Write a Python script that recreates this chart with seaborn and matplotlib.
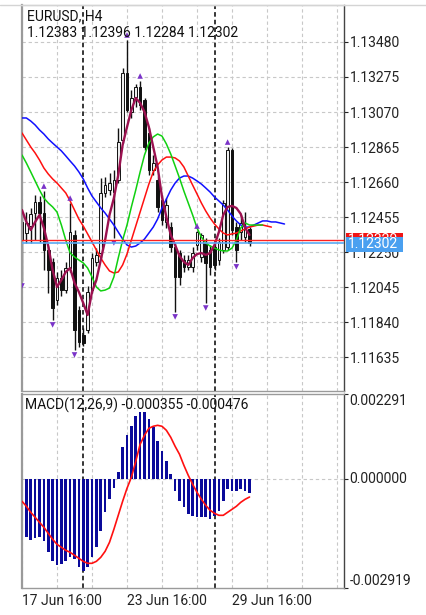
import numpy as np
import pandas as pd
import matplotlib
matplotlib.use('Agg')
import matplotlib.pyplot as plt
import matplotlib.transforms as mtransforms
from matplotlib.patches import Rectangle
from matplotlib.lines import Line2D
import seaborn as sns

symbol = 'EURUSD, H4'
time_labels = ['17 Jun 16:00', '23 Jun 16:00', '29 Jun 16:00']
time_label_bars = [0, 24, 48]
week_start_bars = [14, 44]

# H4 candles
opens = [1.12426, 1.12361, 1.12402, 1.12478, 1.12543, 1.12478, 1.12262, 1.12192, 1.11969, 1.12098,
         1.12027, 1.12156, 1.12350, 1.11910, 1.11764, 1.11793, 1.12027, 1.12192, 1.12244, 1.12596,
         1.12613, 1.12601, 1.12672, 1.12906, 1.13298, 1.13070, 1.13158, 1.13216, 1.13140, 1.12947,
         1.12730, 1.12672, 1.12555, 1.12426, 1.12396, 1.12279, 1.12244, 1.12203, 1.12162, 1.12162,
         1.12291, 1.12221, 1.12303, 1.12262, 1.12279, 1.12203, 1.12262, 1.12279, 1.12847, 1.12396,
         1.12367, 1.12338, 1.12383]
highs = [1.12484, 1.12484, 1.12508, 1.12584, 1.12578, 1.12607, 1.12285, 1.12215, 1.12133, 1.12145,
         1.12192, 1.12537, 1.12379, 1.11934, 1.11805, 1.12051, 1.12244, 1.12273, 1.12683, 1.12689,
         1.12713, 1.12730, 1.12976, 1.13328, 1.13492, 1.13199, 1.13234, 1.13252, 1.13152, 1.12976,
         1.12818, 1.12695, 1.12584, 1.12566, 1.12426, 1.12303, 1.12262, 1.12233, 1.12233, 1.12279,
         1.12373, 1.12361, 1.12332, 1.12291, 1.12320, 1.12332, 1.12555, 1.12865, 1.12859, 1.12426,
         1.12467, 1.12484, 1.12396]
lows = [1.12080, 1.12303, 1.12303, 1.12320, 1.12309, 1.12145, 1.12010, 1.11852, 1.11940, 1.11992,
        1.12010, 1.12133, 1.11676, 1.11694, 1.11700, 1.11776, 1.12010, 1.12168, 1.12215, 1.12572,
        1.12584, 1.12332, 1.12654, 1.12888, 1.13070, 1.13035, 1.13099, 1.13082, 1.12847, 1.12701,
        1.12701, 1.12484, 1.12408, 1.12391, 1.12250, 1.11899, 1.12057, 1.12133, 1.12145, 1.12133,
        1.12262, 1.12192, 1.11951, 1.12115, 1.12145, 1.12174, 1.12244, 1.12262, 1.12350, 1.12192,
        1.12320, 1.12309, 1.12284]
closes = [1.12320, 1.12420, 1.12473, 1.12543, 1.12478, 1.12262, 1.12145, 1.11922, 1.12098, 1.12027,
          1.12156, 1.12367, 1.11793, 1.11723, 1.11717, 1.12016, 1.12215, 1.12233, 1.12596, 1.12642,
          1.12654, 1.12672, 1.12894, 1.13298, 1.13082, 1.13152, 1.13216, 1.13111, 1.12865, 1.12730,
          1.12771, 1.12514, 1.12437, 1.12525, 1.12279, 1.12104, 1.12104, 1.12162, 1.12203, 1.12244,
          1.12367, 1.12350, 1.12186, 1.12162, 1.12174, 1.12309, 1.12537, 1.12847, 1.12379, 1.12262,
          1.12420, 1.12391, 1.12302]

# Alligator lines (they run past the last bar) and the fast average
jaw = [1.13035, 1.13035, 1.13017, 1.12994, 1.12965, 1.12941, 1.12912, 1.12888, 1.12865, 1.12842,
       1.12813, 1.12783, 1.12754, 1.12719, 1.12678, 1.12625, 1.12578, 1.12543, 1.12508, 1.12478,
       1.12443, 1.12408, 1.12367, 1.12326, 1.12291, 1.12279, 1.12285, 1.12303, 1.12326, 1.12361,
       1.12396, 1.12443, 1.12508, 1.12560, 1.12613, 1.12654, 1.12683, 1.12695, 1.12695, 1.12683,
       1.12666, 1.12648, 1.12625, 1.12601, 1.12572, 1.12549, 1.12525, 1.12496, 1.12461, 1.12432,
       1.12408, 1.12396, 1.12396, 1.12408, 1.12420, 1.12432, 1.12432, 1.12426, 1.12426, 1.12420,
       1.12414]
teeth = [1.12947, 1.12906, 1.12865, 1.12830, 1.12789, 1.12742, 1.12707, 1.12678, 1.12654, 1.12625,
         1.12596, 1.12549, 1.12496, 1.12443, 1.12402, 1.12356, 1.12309, 1.12262, 1.12215, 1.12174,
         1.12139, 1.12127, 1.12133, 1.12174, 1.12238, 1.12320, 1.12402, 1.12484, 1.12566, 1.12648,
         1.12719, 1.12760, 1.12789, 1.12806, 1.12806, 1.12801, 1.12783, 1.12748, 1.12695, 1.12642,
         1.12590, 1.12537, 1.12490, 1.12449, 1.12414, 1.12385, 1.12361, 1.12350, 1.12356, 1.12361,
         1.12373, 1.12385, 1.12396, 1.12402, 1.12408, 1.12408, 1.12402, 1.12396]
lips = [1.12818, 1.12771, 1.12719, 1.12666, 1.12613, 1.12566, 1.12537, 1.12514, 1.12484, 1.12408,
        1.12320, 1.12244, 1.12221, 1.12203, 1.12186, 1.12156, 1.12104, 1.12045, 1.12022, 1.12027,
        1.12039, 1.12104, 1.12215, 1.12320, 1.12408, 1.12514, 1.12613, 1.12719, 1.12818, 1.12888,
        1.12924, 1.12941, 1.12929, 1.12883, 1.12824, 1.12754, 1.12683, 1.12607, 1.12537, 1.12467,
        1.12391, 1.12338, 1.12303, 1.12285, 1.12273, 1.12262, 1.12256, 1.12256, 1.12273, 1.12320,
        1.12391, 1.12420, 1.12408, 1.12408, 1.12408, 1.12408]
fast_ma = [1.12496, 1.12426, 1.12379, 1.12426, 1.12467, 1.12391, 1.12285, 1.12145, 1.12045, 1.12086,
           1.12133, 1.12156, 1.12069, 1.12016, 1.11951, 1.11881, 1.12016, 1.12086, 1.12203, 1.12320,
           1.12467, 1.12566, 1.12701, 1.12877, 1.12982, 1.13082, 1.13152, 1.13123, 1.13070, 1.12982,
           1.12865, 1.12748, 1.12572, 1.12455, 1.12350, 1.12291, 1.12227, 1.12192, 1.12174, 1.12215,
           1.12238, 1.12244, 1.12233, 1.12244, 1.12291, 1.12367, 1.12467, 1.12514, 1.12520, 1.12508,
           1.12473, 1.12391, 1.12350]

fractal_up = [5, 11, 24, 27, 40, 47]
fractal_down = [0, 7, 12, 21, 35, 42, 49]

bid = 1.12302
ask = 1.12320
price_ticks = [1.11635, 1.11840, 1.12045, 1.12250, 1.12455, 1.12660, 1.12865, 1.13070, 1.13275, 1.13480]

macd_main = [-0.001477, -0.001558, -0.001638, -0.001585, -0.001558, -0.001665, -0.001961, -0.002203,
             -0.002310, -0.002283, -0.002203, -0.002095, -0.002149, -0.002364, -0.002471, -0.002364,
             -0.002095, -0.001826, -0.001397, -0.000886, -0.000537, -0.000242, 0.000188, 0.000860,
             0.001182, 0.001424, 0.001692, 0.001800, 0.001800, 0.001612, 0.001397, 0.001021, 0.000752,
             0.000483, 0.000134, -0.000322, -0.000591, -0.000752, -0.000940, -0.000994, -0.001021,
             -0.001021, -0.001021, -0.001074, -0.000994, -0.000860, -0.000591, -0.000269, -0.000322,
             -0.000322, -0.000269, -0.000322, -0.000355]
macd_signal = [-0.000591, -0.000725, -0.000886, -0.001021, -0.001155, -0.001289, -0.001450, -0.001612,
               -0.001746, -0.001826, -0.001907, -0.001961, -0.002041, -0.002122, -0.002203, -0.002256,
               -0.002256, -0.002203, -0.002095, -0.001934, -0.001692, -0.001343, -0.000967, -0.000591,
               -0.000242, 0.000054, 0.000483, 0.000940, 0.001182, 0.001370, 0.001424, 0.001450, 0.001424,
               0.001316, 0.001128, 0.000886, 0.000672, 0.000376, 0.000107, -0.000134, -0.000349,
               -0.000537, -0.000698, -0.000833, -0.000913, -0.000967, -0.000967, -0.000886, -0.000806,
               -0.000725, -0.000618, -0.000537, -0.000476]
macd_ticks = [-0.002919, 0.0, 0.002291]

sns.set_style('white')
plt.rcParams['font.family'] = ['Roboto', 'DejaVu Sans']
plt.rcParams['font.size'] = 10

W, H = 426, 615
BAR_PX = 4.375
fig = plt.figure(figsize=(W / 100, H / 100), dpi=100)


def px_axes(left, top, right, bottom):
    return fig.add_axes([left / W, 1 - bottom / H, (right - left) / W, (bottom - top) / H])


ax = px_axes(22, 5, 344, 391)
ax2 = px_axes(22, 394, 344, 588)

grid_kw = dict(color='#c8c8c8', lw=0.8, ls=(0, (3, 2.5)), zorder=0)
sep_kw = dict(color='black', lw=1.1, ls=(0, (3, 2)), zorder=1)
xmax = 322 / BAR_PX

df = pd.DataFrame({'o': opens, 'h': highs, 'l': lows, 'c': closes})
df['bar'] = np.arange(len(df))
bull = df['c'] >= df['o']

# ---- price panel
for yv in price_ticks:
    ax.axhline(yv, **grid_kw)
for xv in range(0, int(xmax) + 1, 8):
    ax.axvline(xv, **grid_kw)
for xv in week_start_bars:
    ax.axvline(xv, **sep_kw)

ax.vlines(df['bar'], df['l'], df['h'], color='#111111', lw=1.0, zorder=2)
body_lo = df[['o', 'c']].min(axis=1)
body_h = (df['c'] - df['o']).abs().clip(lower=0.00003)
ax.bar(df['bar'][bull], body_h[bull], bottom=body_lo[bull], width=0.62,
       color='#ededed', edgecolor='#111111', linewidth=0.7, zorder=2)
ax.bar(df['bar'][~bull], body_h[~bull], bottom=body_lo[~bull], width=0.62,
       color='#111111', edgecolor='#111111', linewidth=0.7, zorder=2)

sns.lineplot(x=np.arange(len(jaw)), y=jaw, ax=ax, color='#1010ff', lw=1.1, zorder=3)
sns.lineplot(x=np.arange(len(teeth)), y=teeth, ax=ax, color='#ff1010', lw=1.1, zorder=3)
sns.lineplot(x=np.arange(len(lips)), y=lips, ax=ax, color='#10d010', lw=1.1, zorder=3)
sns.lineplot(x=np.arange(len(fast_ma)), y=fast_ma, ax=ax, color='#9b1150', lw=1.7, zorder=3)

off = 0.00029
sns.scatterplot(x=fractal_up, y=[highs[i] + off for i in fractal_up], ax=ax, marker='^',
                color='#7a33c8', s=16, edgecolor='none', zorder=4)
sns.scatterplot(x=fractal_down, y=[lows[i] - off for i in fractal_down], ax=ax, marker='v',
                color='#7a33c8', s=16, edgecolor='none', zorder=4)

ax.axhline(ask, color='#ff2020', lw=1.0, zorder=4)
ax.axhline(bid, color='#5aaaf2', lw=1.2, zorder=4)

ax.set_xlim(0, xmax)
ax.set_ylim(1.114359, 1.136967)
ax.set_xticks([])
ax.yaxis.tick_right()
ax.set_yticks(price_ticks, [f'{v:.5f}' for v in price_ticks])
ax.tick_params(axis='y', length=3, width=0.8, pad=1, labelsize=10, colors='#222222')
ax.set_xlabel('')
ax.set_ylabel('')

# price boxes on the right scale (bid box drawn over the ask box)
blend = mtransforms.blended_transform_factory(ax.transAxes, ax.transData)
px_price = (ax.get_ylim()[1] - ax.get_ylim()[0]) / 386
box_h = 15 * px_price
for k, (price, col, shift) in enumerate([(ask, '#f01515', 0.0), (bid, '#4aa0f0', -1.0)]):
    yc = price + shift * px_price
    ax.add_patch(Rectangle((1.006, yc - box_h / 2), 57 / 322, box_h, transform=blend,
                           facecolor=col, edgecolor='none', clip_on=False, zorder=10 + 2 * k))
    ax.text(1.013, yc, f'{price:.5f}', transform=blend, color='white', fontsize=10,
            va='center', ha='left', clip_on=False, zorder=11 + 2 * k)

for side, col, lw in [('left', '#9a9a9a', 1.6), ('right', '#444444', 1.0),
                      ('top', '#d4d4d4', 1.0), ('bottom', '#9a9a9a', 1.0)]:
    ax.spines[side].set_color(col)
    ax.spines[side].set_linewidth(lw)

fig.text(27 / W, 1 - 16.5 / H, symbol, fontsize=10, color='#111111', va='center')
last = df.iloc[-1]
fig.text(27 / W, 1 - 33 / H, f"{last['o']:.5f} {last['h']:.5f} {last['l']:.5f} {last['c']:.5f}",
         fontsize=10, color='#111111', va='center')
fig.add_artist(Line2D([0, 1], [1 - 5 / H] * 2, color='#d4d4d4', lw=1.0))

# ---- MACD panel
ax2.axhline(0, **grid_kw)
for xv in range(0, int(xmax) + 1, 8):
    ax2.axvline(xv, **grid_kw)
for xv in week_start_bars:
    ax2.axvline(xv, **sep_kw)

ax2.bar(np.arange(len(macd_main)), macd_main, width=0.6, color='#0a0a9a', linewidth=0, zorder=2)
sns.lineplot(x=np.arange(len(macd_signal)), y=macd_signal, ax=ax2, color='#ff1010', lw=1.2, zorder=3)

ax2.set_xlim(0, xmax)
ax2.set_ylim(macd_ticks[0], macd_ticks[-1])
ax2.yaxis.tick_right()
ax2.set_yticks(macd_ticks, [f'{v:.6f}' for v in macd_ticks])
for lab, va in zip(ax2.get_yticklabels(), ['bottom', 'center', 'top']):
    lab.set_va(va)
ax2.tick_params(axis='y', length=3, width=0.8, pad=1, labelsize=10, colors='#222222')
ax2.set_xticks(time_label_bars, time_labels)
for lab in ax2.get_xticklabels():
    lab.set_ha('left')
ax2.tick_params(axis='x', length=2, width=0.8, pad=2, labelsize=10, colors='#222222')
ax2.set_xlabel('')
ax2.set_ylabel('')
for side, col, lw in [('left', '#9a9a9a', 1.6), ('right', '#444444', 1.0),
                      ('top', '#9a9a9a', 1.0), ('bottom', '#9a9a9a', 1.0)]:
    ax2.spines[side].set_color(col)
    ax2.spines[side].set_linewidth(lw)

ax2.text(3 / 322, 1 - 11.7 / 194,
         f'MACD(12,26,9) {macd_main[-1]:.6f} {macd_signal[-1]:.6f}',
         transform=ax2.transAxes, fontsize=10, color='#111111', va='center', ha='left')

fig.savefig('out.png', dpi=100, facecolor='white')
